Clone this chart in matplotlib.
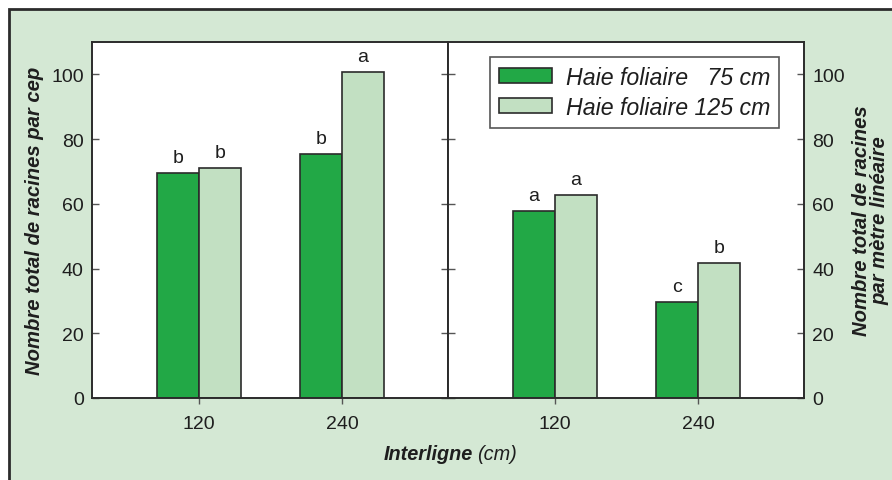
import matplotlib
matplotlib.use("Agg")
import matplotlib.pyplot as plt
from matplotlib.patches import Rectangle
import numpy as np

# data
interlignes = ["120", "240"]
series_labels = ["Haie foliaire \u200775 cm", "Haie foliaire 125 cm"]
par_cep_75 = [69.6, 75.3]
par_cep_125 = [71.2, 100.6]
par_metre_75 = [57.9, 29.6]
par_metre_125 = [62.6, 41.8]
lettres_cep_75 = ["b", "b"]
lettres_cep_125 = ["b", "a"]
lettres_metre_75 = ["a", "c"]
lettres_metre_125 = ["a", "b"]
y_ticks = [0, 20, 40, 60, 80, 100]

DARK = "#22a846"
LIGHT = "#c2e0c2"
BG = "#d4e8d4"
EDGE = "#2b2b2b"
TXT = "#1e1e1e"

plt.rcParams["font.family"] = ["Liberation Sans", "DejaVu Sans"]

W, H = 892, 481
fig = plt.figure(figsize=(W / 100, H / 100), dpi=100, facecolor="white")

# outer green frame (cut off on right and bottom like the original)
fig.patches.append(Rectangle((9 / W, -0.05), 1.2, (H - 10) / H + 0.05,
                             transform=fig.transFigure, facecolor=BG,
                             edgecolor=EDGE, linewidth=2, zorder=-10))

ax1 = fig.add_axes([92 / W, 82 / H, 356 / W, 356 / H])
ax2 = fig.add_axes([448 / W, 82 / H, 356 / W, 356 / H])

x = np.arange(len(interlignes))
w = 0.294


def draw_panel(ax, v75, v125, l75, l125):
    b1 = ax.bar(x - w / 2, v75, w, color=DARK, edgecolor=EDGE, linewidth=1.2,
                label=series_labels[0], zorder=2)
    b2 = ax.bar(x + w / 2, v125, w, color=LIGHT, edgecolor=EDGE, linewidth=1.2,
                label=series_labels[1], zorder=2)
    for bars, letters in ((b1, l75), (b2, l125)):
        for rect, lt in zip(bars, letters):
            ax.annotate(lt, (rect.get_x() + rect.get_width() / 2, rect.get_height()),
                        xytext=(0, 5), textcoords="offset points",
                        ha="center", va="bottom", fontsize=14, color=TXT)
    ax.set_xlim(-0.748, 1.741)
    ax.set_ylim(0, 110)
    ax.set_xticks(x)
    ax.set_xticklabels(interlignes)
    ax.set_yticks(y_ticks)
    ax.set_facecolor("white")
    for sp in ax.spines.values():
        sp.set_color(EDGE)
        sp.set_linewidth(1.4)
    ax.tick_params(axis="y", direction="in", length=5, width=1, color="#555555",
                   left=True, right=True, labelsize=14, labelcolor=TXT, pad=6)
    ax.tick_params(axis="x", direction="out", length=4, width=1, color="#555555",
                   labelsize=14, labelcolor=TXT, pad=8)


draw_panel(ax1, par_cep_75, par_cep_125, lettres_cep_75, lettres_cep_125)
draw_panel(ax2, par_metre_75, par_metre_125, lettres_metre_75, lettres_metre_125)

ax1.tick_params(axis="y", labelleft=True, labelright=False)
ax2.tick_params(axis="y", labelleft=False, labelright=True)

ax1.set_ylabel("Nombre total de racines par cep", fontsize=14.6, fontweight="bold",
               fontstyle="italic", color=TXT, labelpad=5)
ax2.yaxis.set_label_position("right")
ax2.set_ylabel("Nombre total de racines\npar mètre linéaire", fontsize=14.6,
               fontweight="bold", fontstyle="italic", color=TXT,
               rotation=90, labelpad=5, linespacing=1.0)

fig.text(473 / W, 1 - 455 / H, "Interligne", ha="right", va="center", fontsize=14.3,
         fontweight="bold", fontstyle="italic", color=TXT)
fig.text(477 / W, 1 - 455 / H, "(cm)", ha="left", va="center", fontsize=14.3,
         fontstyle="italic", color=TXT)

leg = ax2.legend(loc="upper right", bbox_to_anchor=(0.93, 0.958), borderaxespad=0,
                 fontsize=16.7, frameon=True, fancybox=False, edgecolor=EDGE,
                 handlelength=2.3, handleheight=0.6, labelspacing=0.3,
                 borderpad=0.38, handletextpad=0.6)
leg.get_frame().set_linewidth(1.2)
for t in leg.get_texts():
    t.set_fontstyle("italic")
    t.set_color(TXT)

fig.savefig("out.png", dpi=100, facecolor=fig.get_facecolor())
